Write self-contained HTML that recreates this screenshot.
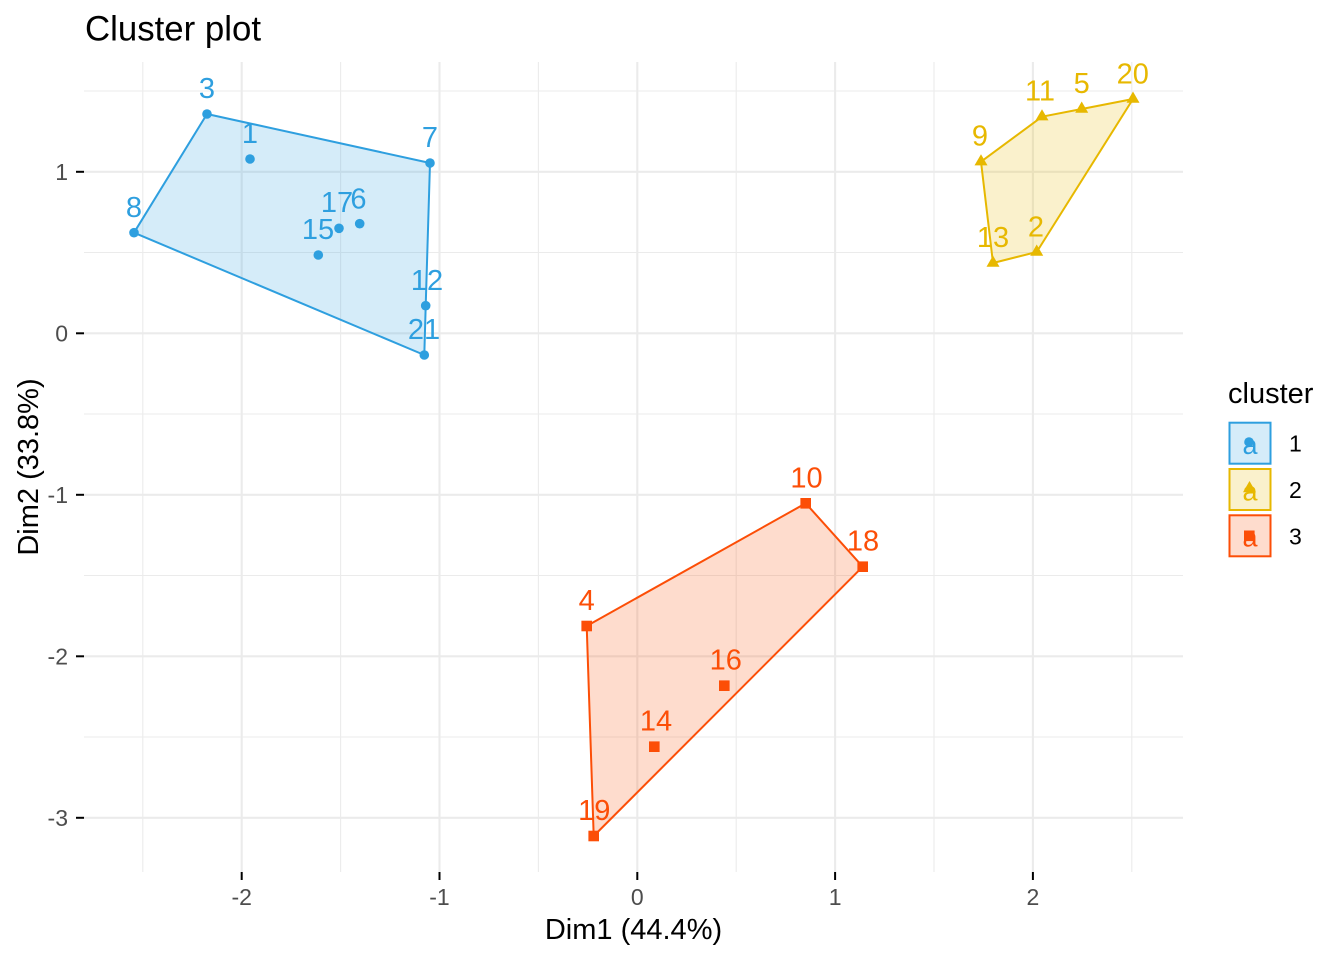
<!DOCTYPE html>
<html>
<head>
<meta charset="utf-8">
<style>
  html, body { margin:0; padding:0; background:#ffffff; }
  svg { display:block; }
  text { font-family: "Liberation Sans", Arial, sans-serif; }
</style>
</head>
<body>
<svg width="1344" height="960" viewBox="0 0 1344 960" xmlns="http://www.w3.org/2000/svg">
  <rect x="0" y="0" width="1344" height="960" fill="#ffffff"/>

  <!-- minor gridlines -->
  <g stroke="#EBEBEB" stroke-width="1.1" fill="none">
    <line x1="142.8" y1="62" x2="142.8" y2="872"/>
    <line x1="340.6" y1="62" x2="340.6" y2="872"/>
    <line x1="538.4" y1="62" x2="538.4" y2="872"/>
    <line x1="736.2" y1="62" x2="736.2" y2="872"/>
    <line x1="934" y1="62" x2="934" y2="872"/>
    <line x1="1131.8" y1="62" x2="1131.8" y2="872"/>
    <line x1="84" y1="91" x2="1183" y2="91"/>
    <line x1="84" y1="252.5" x2="1183" y2="252.5"/>
    <line x1="84" y1="414" x2="1183" y2="414"/>
    <line x1="84" y1="575.5" x2="1183" y2="575.5"/>
    <line x1="84" y1="737" x2="1183" y2="737"/>
  </g>
  <!-- major gridlines -->
  <g stroke="#EBEBEB" stroke-width="2.1" fill="none">
    <line x1="241.7" y1="62" x2="241.7" y2="872"/>
    <line x1="439.5" y1="62" x2="439.5" y2="872"/>
    <line x1="637.3" y1="62" x2="637.3" y2="872"/>
    <line x1="835.1" y1="62" x2="835.1" y2="872"/>
    <line x1="1032.9" y1="62" x2="1032.9" y2="872"/>
    <line x1="84" y1="171.8" x2="1183" y2="171.8"/>
    <line x1="84" y1="333.3" x2="1183" y2="333.3"/>
    <line x1="84" y1="494.8" x2="1183" y2="494.8"/>
    <line x1="84" y1="656.3" x2="1183" y2="656.3"/>
    <line x1="84" y1="817.8" x2="1183" y2="817.8"/>
  </g>

  <!-- axis ticks -->
  <g stroke="#000000" stroke-width="2">
    <line x1="76" y1="171.8" x2="84" y2="171.8"/>
    <line x1="76" y1="333.3" x2="84" y2="333.3"/>
    <line x1="76" y1="494.8" x2="84" y2="494.8"/>
    <line x1="76" y1="656.3" x2="84" y2="656.3"/>
    <line x1="76" y1="817.8" x2="84" y2="817.8"/>
    <line x1="241.7" y1="872" x2="241.7" y2="880"/>
    <line x1="439.5" y1="872" x2="439.5" y2="880"/>
    <line x1="637.3" y1="872" x2="637.3" y2="880"/>
    <line x1="835.1" y1="872" x2="835.1" y2="880"/>
    <line x1="1032.9" y1="872" x2="1032.9" y2="880"/>
  </g>

  <!-- tick labels -->
  <g fill="#4D4D4D" font-size="23">
    <g text-anchor="end">
      <text x="68" y="180">1</text>
      <text x="68" y="341.5">0</text>
      <text x="68" y="503">-1</text>
      <text x="68" y="664.5">-2</text>
      <text x="68" y="826">-3</text>
    </g>
    <g text-anchor="middle">
      <text x="241.7" y="905">-2</text>
      <text x="439.5" y="905">-1</text>
      <text x="637.3" y="905">0</text>
      <text x="835.1" y="905">1</text>
      <text x="1032.9" y="905">2</text>
    </g>
  </g>

  <!-- axis titles -->
  <text x="633.5" y="939" font-size="29" text-anchor="middle" fill="#000">Dim1 (44.4%)</text>
  <text transform="translate(38,467) rotate(-90)" font-size="29" text-anchor="middle" fill="#000">Dim2 (33.8%)</text>

  <!-- title -->
  <text x="85" y="40.5" font-size="34.8" fill="#000">Cluster plot</text>

  <!-- hulls -->
  <polygon points="207,114 430,163 425.7,305.7 424.3,355 134,232.7" fill="#2E9FDF" fill-opacity="0.2" stroke="#2E9FDF" stroke-width="2" stroke-linejoin="round"/>
  <polygon points="981,161.7 1042,116.7 1081.7,109 1133,99 1036.7,252 993,263" fill="#E7B800" fill-opacity="0.2" stroke="#E7B800" stroke-width="2" stroke-linejoin="round"/>
  <polygon points="805.7,503.3 862.7,566.7 593.7,836 586.7,626" fill="#FC4E07" fill-opacity="0.2" stroke="#FC4E07" stroke-width="2" stroke-linejoin="round"/>

  <!-- cluster 1 points -->
  <g fill="#2E9FDF">
    <circle cx="207" cy="114" r="4.8"/>
    <circle cx="250" cy="159" r="4.8"/>
    <circle cx="430" cy="163" r="4.8"/>
    <circle cx="134" cy="232.7" r="4.8"/>
    <circle cx="339" cy="228.3" r="4.8"/>
    <circle cx="359.7" cy="223.7" r="4.8"/>
    <circle cx="318.3" cy="255" r="4.8"/>
    <circle cx="425.7" cy="305.7" r="4.8"/>
    <circle cx="424.3" cy="355" r="4.8"/>
  </g>
  <!-- cluster 2 points (triangles) -->
  <g fill="#E7B800">
    <polygon points="981,154.2 987.5,165.4 974.5,165.4"/>
    <polygon points="1042,109.2 1048.5,120.4 1035.5,120.4"/>
    <polygon points="1081.7,101.5 1088.2,112.7 1075.2,112.7"/>
    <polygon points="1133,91.5 1139.5,102.7 1126.5,102.7"/>
    <polygon points="1036.7,244.5 1043.2,255.7 1030.2,255.7"/>
    <polygon points="993,255.5 999.5,266.7 986.5,266.7"/>
  </g>
  <!-- cluster 3 points (squares) -->
  <g fill="#FC4E07">
    <rect x="800.4" y="498" width="10.6" height="10.6"/>
    <rect x="857.4" y="561.4" width="10.6" height="10.6"/>
    <rect x="581.4" y="620.7" width="10.6" height="10.6"/>
    <rect x="719" y="680.4" width="10.6" height="10.6"/>
    <rect x="649" y="741.4" width="10.6" height="10.6"/>
    <rect x="588.4" y="830.7" width="10.6" height="10.6"/>
  </g>

  <!-- point labels -->
  <g font-size="29" text-anchor="middle">
    <g fill="#2E9FDF">
      <text x="207" y="98">3</text>
      <text x="250" y="143">1</text>
      <text x="430" y="147">7</text>
      <text x="134" y="217">8</text>
      <text x="337" y="212">17</text>
      <text x="358.5" y="208.5">6</text>
      <text x="318" y="239">15</text>
      <text x="427" y="290">12</text>
      <text x="424" y="339">21</text>
    </g>
    <g fill="#E7B800">
      <text x="980" y="145.5">9</text>
      <text x="1040" y="100.7">11</text>
      <text x="1081.7" y="93">5</text>
      <text x="1132.7" y="83.3">20</text>
      <text x="993" y="247">13</text>
      <text x="1036" y="236.5">2</text>
    </g>
    <g fill="#FC4E07">
      <text x="806.5" y="487.5">10</text>
      <text x="863" y="550.7">18</text>
      <text x="586.7" y="610">4</text>
      <text x="725.7" y="669.7">16</text>
      <text x="656" y="730.7">14</text>
      <text x="594.3" y="820">19</text>
    </g>
  </g>

  <!-- legend -->
  <text x="1228" y="403" font-size="29" fill="#000">cluster</text>
  <rect x="1229.5" y="422.7" width="41" height="41" fill="#2E9FDF" fill-opacity="0.2" stroke="#2E9FDF" stroke-width="2"/>
  <rect x="1229.5" y="469" width="41" height="41" fill="#E7B800" fill-opacity="0.2" stroke="#E7B800" stroke-width="2"/>
  <rect x="1229.5" y="515.3" width="41" height="41" fill="#FC4E07" fill-opacity="0.2" stroke="#FC4E07" stroke-width="2"/>
  <g font-size="27" text-anchor="middle">
    <text x="1250" y="454" fill="#2E9FDF">a</text>
    <text x="1250" y="500.3" fill="#E7B800">a</text>
    <text x="1250" y="546.6" fill="#FC4E07">a</text>
  </g>
  <circle cx="1249" cy="442" r="4.8" fill="#2E9FDF"/>
  <polygon points="1249.5,481 1256,492.2 1243,492.2" fill="#E7B800"/>
  <rect x="1244" y="530.5" width="10.6" height="10.6" fill="#FC4E07"/>
  <g font-size="23" fill="#000">
    <text x="1289" y="451.5">1</text>
    <text x="1289" y="498">2</text>
    <text x="1289" y="544.5">3</text>
  </g>
</svg>
</body>
</html>
